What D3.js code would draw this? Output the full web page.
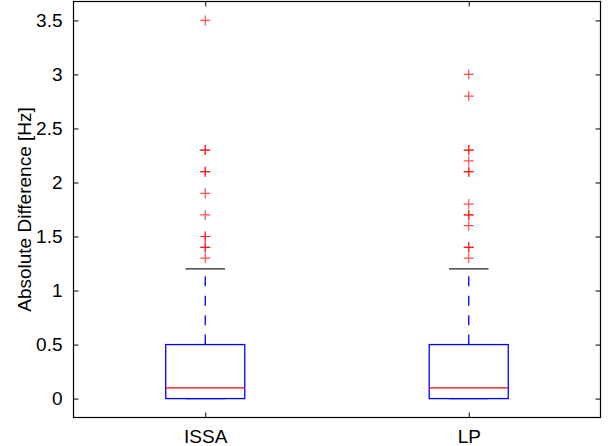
<!DOCTYPE html>
<html>
<head>
<meta charset="utf-8">
<script src="https://cdn.jsdelivr.net/npm/d3@7"></script>
<style>
  html, body { margin: 0; padding: 0; background: #fff; }
  svg { display: block; }
  text { font-family: "Liberation Sans", Arial, Helvetica, sans-serif; }
</style>
</head>
<body>
<svg id="chart" width="608" height="446"></svg>
<script>
// ---- data ----
const categories = ["ISSA", "LP"];
const q1 = [0, 0];
const medians = [0.1, 0.1];
const q3 = [0.5, 0.5];
const lowerWhisker = [0, 0];
const upperWhisker = [1.2, 1.2];
const outliersISSA = [3.5, 2.3, 2.3, 2.1, 2.1, 1.9, 1.7, 1.5, 1.5, 1.4, 1.4, 1.3];
const outliersLP = [3.0, 2.8, 2.3, 2.3, 2.2, 2.1, 2.1, 1.8, 1.7, 1.7, 1.6, 1.4, 1.4, 1.3];
const outliers = [outliersISSA, outliersLP];
const yTicks = [0, 0.5, 1, 1.5, 2, 2.5, 3, 3.5];
const yLabel = "Absolute Difference [Hz]";

// ---- layout ----
const pLeft = 73.5, pRight = 600.5, pTop = 1.5, pBottom = 417.5;
const svg = d3.select("#chart");

const x = d3.scaleLinear().domain([0.5, 2.5]).range([pLeft, pRight]);
const y = d3.scaleLinear().domain([-0.175, 3.675]).range([pBottom, pTop]);
const fontSize = 19;

// frame
svg.append("rect")
  .attr("x", pLeft).attr("y", pTop)
  .attr("width", pRight - pLeft).attr("height", pBottom - pTop)
  .attr("fill", "none").attr("stroke", "#000").attr("stroke-width", 1.2);

// axes with inward ticks
const yAxisL = d3.axisLeft(y).tickValues(yTicks).tickSizeInner(-5).tickSizeOuter(0)
  .tickPadding(11).tickFormat(d3.format("~g"));
const gL = svg.append("g").attr("transform", `translate(${pLeft},0)`).call(yAxisL);
const yAxisR = d3.axisRight(y).tickValues(yTicks).tickSizeInner(-5).tickSizeOuter(0).tickFormat("");
const gR = svg.append("g").attr("transform", `translate(${pRight},0)`).call(yAxisR);
const xAxisB = d3.axisBottom(x).tickValues([1, 2]).tickSizeInner(-5).tickSizeOuter(0)
  .tickPadding(12).tickFormat((d, i) => categories[i]);
const gB = svg.append("g").attr("transform", `translate(0,${pBottom})`).call(xAxisB);
const xAxisT = d3.axisTop(x).tickValues([1, 2]).tickSizeInner(-5).tickSizeOuter(0).tickFormat("");
const gT = svg.append("g").attr("transform", `translate(0,${pTop})`).call(xAxisT);

[gL, gR, gB, gT].forEach(g => {
  g.select(".domain").remove();
  g.selectAll("line").attr("stroke", "#000");
  g.selectAll("text").attr("fill", "#000").style("font-size", fontSize + "px")
    .style("font-family", '"Liberation Sans", Arial, Helvetica, sans-serif');
});

// y label
svg.append("text")
  .attr("transform", `translate(31,${(pTop + pBottom) / 2}) rotate(-90)`)
  .attr("text-anchor", "middle")
  .style("font-size", fontSize + "px")
  .attr("fill", "#000")
  .text(yLabel);

// boxes
const boxHalf = 0.15, capHalf = 0.075;
const blue = "#0000ff", red = "#ff0000";
categories.forEach((c, i) => {
  const pos = i + 1;
  const cx = x(pos);
  const g = svg.append("g");
  // caps (drawn first so the box covers a cap lying on its edge)
  [upperWhisker[i], lowerWhisker[i]].forEach(v => {
    g.append("line")
      .attr("x1", x(pos - capHalf)).attr("x2", x(pos + capHalf))
      .attr("y1", y(v)).attr("y2", y(v))
      .attr("stroke", "#222").attr("stroke-width", 1.3);
  });
  // upper whisker (dashed)
  g.append("line")
    .attr("x1", cx).attr("x2", cx)
    .attr("y1", y(q3[i])).attr("y2", y(upperWhisker[i]))
    .attr("stroke", blue).attr("stroke-width", 1.3)
    .attr("stroke-dasharray", "10,9.4");
  // lower whisker (dashed)
  g.append("line")
    .attr("x1", cx).attr("x2", cx)
    .attr("y1", y(q1[i])).attr("y2", y(lowerWhisker[i]))
    .attr("stroke", blue).attr("stroke-width", 1.3)
    .attr("stroke-dasharray", "10,9.4");
  // box
  const bx0 = x(pos - boxHalf), bx1 = x(pos + boxHalf);
  const by0 = y(q3[i]), by1 = y(q1[i]);
  g.append("rect")
    .attr("x", bx0).attr("y", by0)
    .attr("width", bx1 - bx0).attr("height", by1 - by0)
    .attr("fill", "none").attr("stroke", blue).attr("stroke-width", 1.3);
  // median
  g.append("line")
    .attr("x1", bx0).attr("x2", bx1)
    .attr("y1", y(medians[i])).attr("y2", y(medians[i]))
    .attr("stroke", red).attr("stroke-width", 1.2);
  // outliers
  outliers[i].forEach(v => {
    const oy = y(v);
    g.append("path")
      .attr("d", `M${cx - 5},${oy}H${cx + 5}M${cx},${oy - 5}V${oy + 5}`)
      .attr("stroke", red).attr("stroke-width", 1.2).attr("fill", "none")
      .attr("stroke-opacity", 0.7);
  });
});
</script>
</body>
</html>
